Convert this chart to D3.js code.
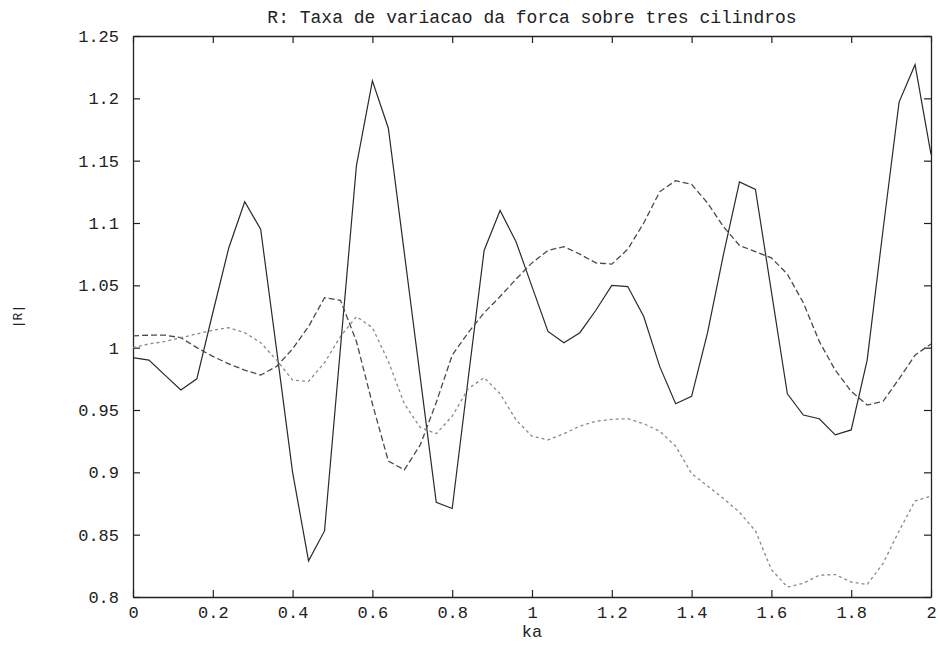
<!DOCTYPE html>
<html>
<head>
<meta charset="utf-8">
<script src="https://cdn.jsdelivr.net/npm/d3@7"></script>
<style>
  html, body { margin: 0; padding: 0; background: #fff; }
  svg text { font-family: "Liberation Mono", "Courier New", monospace; fill: #222; }
</style>
</head>
<body>
<svg id="chart" width="939" height="648"></svg>
<script>
// ka sample grid (step 0.04)
const ka = d3.range(0, 51).map(i => +(i * 0.04).toFixed(2));

// |R| for the three cylinders
const cyl1 = [0.992, 0.990, 0.978, 0.966, 0.975, 1.028, 1.080, 1.117, 1.095, 0.998,
              0.900, 0.829, 0.853, 1.000, 1.146, 1.214, 1.176, 1.076, 0.976, 0.876,
              0.871, 0.975, 1.078, 1.110, 1.085, 1.049, 1.013, 1.004, 1.012, 1.030,
              1.050, 1.049, 1.025, 0.985, 0.955, 0.961, 1.012, 1.075, 1.133, 1.127,
              1.045, 0.963, 0.946, 0.943, 0.930, 0.934, 0.990, 1.095, 1.197, 1.227,
              1.155];
const cyl2 = [1.0095, 1.010, 1.010, 1.008, 1.000, 0.993, 0.987, 0.982, 0.978, 0.985,
              0.999, 1.017, 1.040, 1.038, 1.005, 0.955, 0.909, 0.902, 0.922, 0.956,
              0.994, 1.012, 1.028, 1.041, 1.055, 1.068, 1.078, 1.081, 1.075, 1.068,
              1.067, 1.079, 1.100, 1.125, 1.134, 1.131, 1.116, 1.097, 1.082, 1.077,
              1.072, 1.059, 1.036, 1.005, 0.982, 0.965, 0.954, 0.957, 0.975, 0.994,
              1.003];
const cyl3 = [1.000, 1.003, 1.005, 1.008, 1.011, 1.014, 1.016, 1.012, 1.004, 0.990,
              0.974, 0.973, 0.988, 1.009, 1.025, 1.016, 0.989, 0.955, 0.936, 0.931,
              0.945, 0.967, 0.976, 0.963, 0.942, 0.929, 0.926, 0.931, 0.937, 0.941,
              0.9425, 0.943, 0.939, 0.933, 0.921, 0.899, 0.889, 0.879, 0.868, 0.853,
              0.822, 0.808, 0.811, 0.8175, 0.818, 0.812, 0.810, 0.827, 0.853, 0.877,
              0.881];

const xTicks = [0, 0.2, 0.4, 0.6, 0.8, 1, 1.2, 1.4, 1.6, 1.8, 2];
const yTicks = [0.8, 0.85, 0.9, 0.95, 1, 1.05, 1.1, 1.15, 1.2, 1.25];

const titleText = "R: Taxa de variacao da forca sobre tres cilindros";
const xLabel = "ka";
const yLabel = "|R|";

const margin = { left: 133, right: 8, top: 36, bottom: 51 };
const W = 939, H = 648;
const svg = d3.select("#chart");

const x = d3.scaleLinear().domain([0, 2]).range([margin.left, W - margin.right]);
const y = d3.scaleLinear().domain([0.8, 1.25]).range([H - margin.bottom, margin.top]);

const fmt = d => String(+d.toFixed(2));
const tickLen = 7;
const fontSize = 17;

// axes: ticks on all four sides, pointing inward
const gB = svg.append("g").attr("transform", `translate(0,${y(0.8)})`)
  .call(d3.axisBottom(x).tickValues(xTicks).tickFormat(fmt).tickSizeInner(-tickLen).tickSizeOuter(0).tickPadding(9));
const gT = svg.append("g").attr("transform", `translate(0,${y(1.25)})`)
  .call(d3.axisTop(x).tickValues(xTicks).tickFormat("").tickSizeInner(-tickLen).tickSizeOuter(0));
const gL = svg.append("g").attr("transform", `translate(${x(0)},0)`)
  .call(d3.axisLeft(y).tickValues(yTicks).tickFormat(fmt).tickSizeInner(-tickLen).tickSizeOuter(0).tickPadding(14));
const gR = svg.append("g").attr("transform", `translate(${x(2)},0)`)
  .call(d3.axisRight(y).tickValues(yTicks).tickFormat("").tickSizeInner(-tickLen).tickSizeOuter(0));

[gB, gT, gL, gR].forEach(g => {
  g.select(".domain").attr("stroke", "#222").attr("stroke-width", 1.3);
  g.selectAll(".tick line").attr("stroke", "#222").attr("stroke-width", 1.2);
  g.selectAll(".tick text").attr("font-size", fontSize).attr("fill", "#222")
    .style("font-family", "'Liberation Mono', 'Courier New', monospace");
});

// the series
const line = d3.line().x((d, i) => x(ka[i])).y(d => y(d));
const series = [
  { data: cyl1, color: "#2a2a2a", dash: null, w: 1.2 },
  { data: cyl2, color: "#4a4a4a", dash: "6,3", w: 1.3 },
  { data: cyl3, color: "#8a8a8a", dash: "3,3", w: 1.3 }
];
svg.append("g").selectAll("path").data(series).join("path")
  .attr("d", s => line(s.data))
  .attr("fill", "none")
  .attr("stroke", s => s.color)
  .attr("stroke-width", s => s.w)
  .attr("stroke-dasharray", s => s.dash);

// titles
svg.append("text").attr("x", x(1)).attr("y", 23).attr("text-anchor", "middle")
  .attr("font-size", 18).text(titleText);
svg.append("text").attr("x", x(1)).attr("y", 637).attr("text-anchor", "middle")
  .attr("font-size", fontSize).text(xLabel);
svg.append("text").attr("transform", `translate(22,${y(1.025)}) rotate(-90)`)
  .attr("text-anchor", "middle").attr("font-size", 13).text(yLabel);
</script>
</body>
</html>
